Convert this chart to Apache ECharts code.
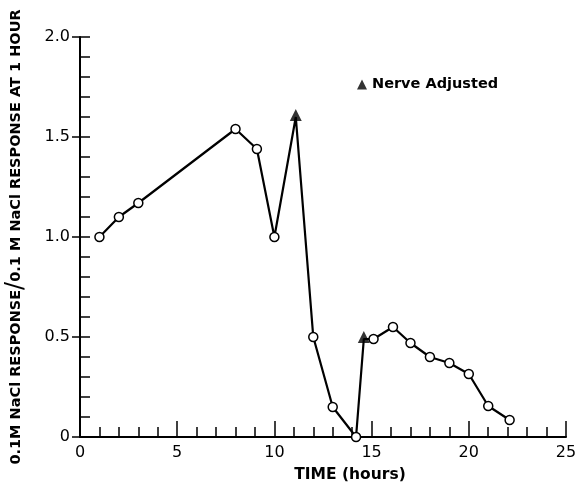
<!DOCTYPE html>
<html>
<head>
<meta charset="utf-8">
<script src="https://cdn.jsdelivr.net/npm/echarts@6/dist/echarts.min.js"></script>
<style>
  html, body { margin: 0; padding: 0; background: #fff; }
  #chart { width: 578px; height: 489px; }
</style>
</head>
<body>
<div id="chart"></div>
<script>
// Response ratio vs time
const hours = [1, 2, 3, 8, 9.1, 10, 11.1, 12, 13, 14.2, 14.6, 15.1, 16.1, 17, 18, 19, 20, 21, 22.1]
const ratio = [1.0, 1.1, 1.17, 1.54, 1.44, 1.0, 1.6, 0.5, 0.15, 0.0, 0.49, 0.49, 0.55, 0.47, 0.4, 0.37, 0.315, 0.155, 0.085]
const adjusted = [false, false, false, false, false, false, true, false, false, false, true, false, false, false, false, false, false, false, false]

const INK = '#000'
const FONT = '"DejaVu Sans", "Liberation Sans", sans-serif'

const chart = echarts.init(document.getElementById('chart'))

const lineData = hours.map((h, i) => ({
  value: [h, ratio[i]],
  symbol: adjusted[i] ? 'none' : 'circle'
}))
const markData = hours.map((h, i) => [h, ratio[i]]).filter((_, i) => adjusted[i])

chart.setOption({
  animation: false,
  textStyle: { fontFamily: FONT, color: INK },
  legend: {
    data: [{ name: 'Nerve Adjusted', icon: 'triangle' }],
    left: 352,
    top: 72,
    itemWidth: 10,
    itemHeight: 10,
    itemGap: 6,
    textStyle: { color: INK, fontSize: 14.5, fontWeight: 'bold', fontFamily: FONT }
  },
  grid: { left: 80, right: 12, top: 37, bottom: 52, outerBoundsMode: 'none' },
  xAxis: {
    type: 'value',
    min: 0,
    max: 25,
    interval: 5,
    name: 'TIME (hours)',
    nameLocation: 'middle',
    nameGap: 30,
    nameTextStyle: { fontSize: 15.5, fontWeight: 'bold', color: INK, fontFamily: FONT, padding: [0, 0, 0, 54] },
    axisLine: { lineStyle: { color: INK, width: 2 } },
    axisTick: { inside: true, length: 16, lineStyle: { color: INK, width: 1.5 } },
    minorTick: { show: true, splitNumber: 5, length: 10, lineStyle: { color: INK, width: 1.5 } },
    axisLabel: { color: INK, fontSize: 16, margin: 8 },
    splitLine: { show: false }
  },
  yAxis: [
    {
      type: 'value',
      min: 0,
      max: 2,
      interval: 0.5,
      name: '{a|0.1M NaCl RESPONSE}{s|/}{a|0.1 M NaCl RESPONSE AT 1 HOUR}',
      nameLocation: 'middle',
      nameGap: 52,
      nameTextStyle: {
        rich: {
          a: { fontSize: 14.5, fontWeight: 'bold', color: INK, fontFamily: FONT },
          s: { fontSize: 24, color: INK, fontFamily: FONT }
        }
      },
      axisLine: { show: true, lineStyle: { color: INK, width: 2 } },
      axisTick: { show: true, inside: false, length: 8, lineStyle: { color: INK, width: 1.5 } },
      axisLabel: { color: INK, fontSize: 16, margin: 10, formatter: v => v === 0 ? '0' : v.toFixed(1) },
      splitLine: { show: false }
    },
    {
      type: 'value',
      min: 0,
      max: 2,
      interval: 0.1,
      position: 'left',
      axisLine: { show: false },
      axisTick: { show: true, inside: true, length: 10, lineStyle: { color: INK, width: 1.5 } },
      axisLabel: { show: false },
      splitLine: { show: false }
    }
  ],
  series: [
    {
      type: 'line',
      data: lineData,
      symbolSize: 9,
      showAllSymbol: true,
      lineStyle: { color: INK, width: 2.2 },
      itemStyle: { color: '#fff', borderColor: INK, borderWidth: 1.5 },
      z: 3
    },
    {
      name: 'Nerve Adjusted',
      type: 'scatter',
      data: markData,
      symbol: 'triangle',
      symbolSize: 12,
      symbolOffset: [0, -2],
      itemStyle: { color: INK },
      z: 4
    }
  ]
})
</script>
</body>
</html>
